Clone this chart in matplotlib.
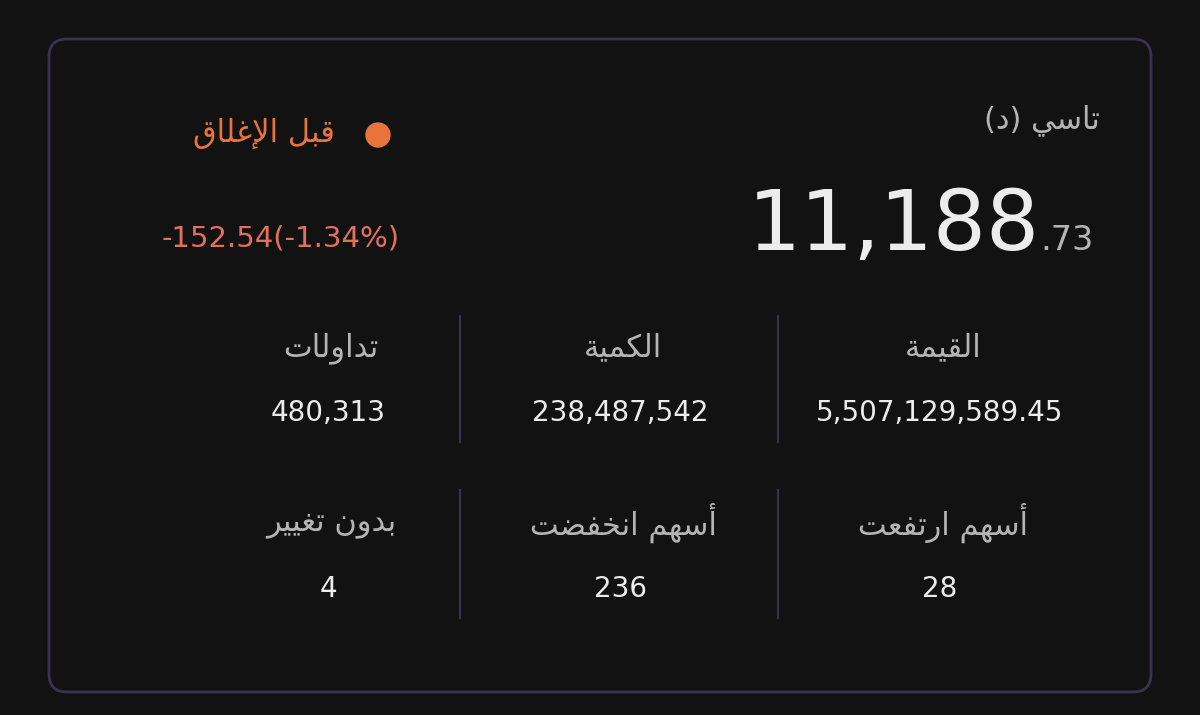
import matplotlib.pyplot as plt
from matplotlib.patches import FancyBboxPatch, Circle

# Arabic text given in visual (left-to-right) order with presentation forms,
# because matplotlib does no RTL shaping itself
INDEX_NAME = "(\uFEA9) \uFEF2\uFEB3\uFE8E\uFE97"          # تاسي (د)
STATUS = "\uFED5\uFE8E\uFEE0\uFECF\uFEF9\uFE8D \uFEDE\uFE92\uFED7"  # قبل الإغلاق
INDEX_INT = "11,188"
INDEX_DEC = ".73"
CHANGE = "-152.54(-1.34%)"

# rows of stats, columns ordered left -> right on screen
ROW1_LABELS = ["\uFE95\uFE8E\uFEDF\uFEED\uFE8D\uFEAA\uFE97",       # تداولات
               "\uFE94\uFEF4\uFEE4\uFEDC\uFEDF\uFE8D",             # الكمية
               "\uFE94\uFEE4\uFEF4\uFED8\uFEDF\uFE8D"]             # القيمة
ROW1_VALUES = ["480,313", "238,487,542", "5,507,129,589.45"]
ROW2_LABELS = ["\uFEAE\uFEF4\uFEF4\uFED0\uFE97 \uFEE5\uFEED\uFEAA\uFE91",                 # بدون تغيير
               "\uFE96\uFEC0\uFED4\uFEA8\uFEE7\uFE8D \uFEE2\uFEEC\uFEB3\uFE83",           # أسهم انخفضت
               "\uFE96\uFECC\uFED4\uFE97\uFEAD\uFE8D \uFEE2\uFEEC\uFEB3\uFE83"]           # أسهم ارتفعت
ROW2_VALUES = ["4", "236", "28"]

BG = "#121212"
BORDER = "#3b3152"
LABEL_C = "#b4b4b4"
VALUE_C = "#ececec"

fig = plt.figure(figsize=(12, 7.15), dpi=100, facecolor=BG)
ax = fig.add_axes([0, 0, 1, 1])
ax.set_xlim(0, 1200)
ax.set_ylim(715, 0)
ax.axis("off")
ax.set_facecolor(BG)

ax.add_patch(FancyBboxPatch((49, 39), 1102, 653, boxstyle="round,pad=0,rounding_size=18",
                            fc=BG, ec=BORDER, lw=2))

font = ["DejaVu Sans"]
ax.text(1100, 120, INDEX_NAME, ha="right", va="center", fontsize=22, color=LABEL_C, family=font)
ax.text(1040, 250, INDEX_INT, ha="right", va="baseline", fontsize=60, color=VALUE_C, family=font)
ax.text(1040, 250, INDEX_DEC, ha="left", va="baseline", fontsize=24, color=LABEL_C, family=font)

ax.add_patch(Circle((378, 135), 12, color="#e8743b"))
ax.text(335, 133, STATUS, ha="right", va="center", fontsize=22, color="#e8743b", family=font)
ax.text(400, 238, CHANGE, ha="right", va="center", fontsize=21, color="#e3705f", family=font)

cols = [328, 620, 940]
for x in (460, 778):
    ax.plot([x, x], [316, 442], color=BORDER, lw=1.5)
    ax.plot([x, x], [490, 618], color=BORDER, lw=1.5)

for cx, lab, val in zip(cols, ROW1_LABELS, ROW1_VALUES):
    ax.text(cx + 3, 348, lab, ha="center", va="center", fontsize=22, color=LABEL_C, family=font)
    ax.text(cx, 413, val, ha="center", va="center", fontsize=20, color=VALUE_C, family=font)
for cx, lab, val in zip(cols, ROW2_LABELS, ROW2_VALUES):
    ax.text(cx + 3, 523, lab, ha="center", va="center", fontsize=22, color=LABEL_C, family=font)
    ax.text(cx, 589, val, ha="center", va="center", fontsize=20, color=VALUE_C, family=font)

fig.savefig("out.png", dpi=100, facecolor=BG)
